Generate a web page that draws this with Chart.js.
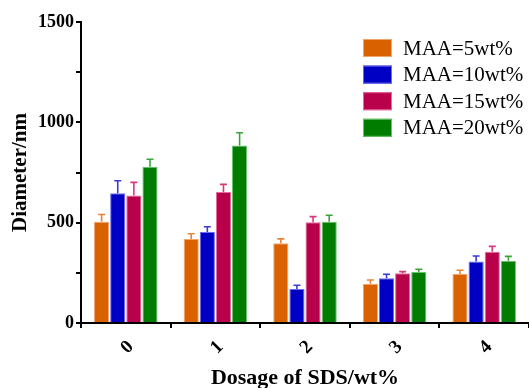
<!DOCTYPE html>
<html>
<head>
<meta charset="utf-8">
<script src="https://cdn.jsdelivr.net/npm/chart.js@4/dist/chart.umd.min.js"></script>
<style>
  body { margin: 0; background: #fff; }
  #chart { display: block; }
</style>
</head>
<body>
<canvas id="chart" width="529" height="388"></canvas>
<script>
const categories = ['0', '1', '2', '3', '4'];
const seriesLabels = ['MAA=5wt%', 'MAA=10wt%', 'MAA=15wt%', 'MAA=20wt%'];

const maa5 = [505, 419, 397, 196, 244];
const maa10 = [646, 453, 169, 223, 307];
const maa15 = [636, 653, 502, 248, 355];
const maa20 = [779, 885, 505, 254, 310];

const err5 = [36, 26, 22, 18, 19];
const err10 = [63, 27, 19, 20, 27];
const err15 = [65, 38, 28, 8, 27];
const err20 = [37, 63, 32, 14, 22];

const yTicks = [0, 500, 1000, 1500];

const fills = ['#d96100', '#0000c4', '#b8004b', '#007d00'];
const edges = ['#f2a66a', '#6a6af0', '#e66a9a', '#66c46a'];
const whiskers = ['#e8843a', '#3a3ad8', '#d63a7a', '#3aa43a'];

const values = [maa5, maa10, maa15, maa20];
const errors = [err5, err10, err15, err20];

const datasets = values.map((v, i) => ({
  label: seriesLabels[i],
  data: v,
  errors: errors[i],
  backgroundColor: fills[i],
  borderColor: edges[i],
  borderWidth: 1,
  categoryPercentage: 0.72,
  barPercentage: 0.94
}));

// upward error bars with a cap
const errorBars = {
  id: 'errorBars',
  afterDatasetsDraw(chart) {
    const ctx = chart.ctx;
    const y = chart.scales.y;
    chart.data.datasets.forEach((ds, i) => {
      const meta = chart.getDatasetMeta(i);
      ctx.save();
      ctx.strokeStyle = whiskers[i];
      ctx.lineWidth = 1.6;
      meta.data.forEach((bar, j) => {
        const top = y.getPixelForValue(ds.data[j] + ds.errors[j]);
        ctx.beginPath();
        ctx.moveTo(bar.x, bar.y);
        ctx.lineTo(bar.x, top);
        ctx.moveTo(bar.x - 3.5, top);
        ctx.lineTo(bar.x + 3.5, top);
        ctx.stroke();
      });
      ctx.restore();
    });
  }
};

// legend inside the plot, top right
const boxLegend = {
  id: 'boxLegend',
  afterDraw(chart) {
    const ctx = chart.ctx;
    ctx.save();
    ctx.font = '21px "Liberation Serif", "Times New Roman", serif';
    ctx.textBaseline = 'middle';
    chart.data.datasets.forEach((ds, i) => {
      const cy = 48 + i * 26.6;
      ctx.fillStyle = ds.backgroundColor;
      ctx.fillRect(363, cy - 9, 29, 18);
      ctx.strokeStyle = ds.borderColor;
      ctx.lineWidth = 1;
      ctx.strokeRect(363.5, cy - 8.5, 28, 17);
      ctx.fillStyle = '#000';
      ctx.fillText(ds.label, 403, cy + 1);
    });
    ctx.restore();
  }
};

new Chart(document.getElementById('chart'), {
  type: 'bar',
  data: { labels: categories, datasets },
  plugins: [errorBars, boxLegend],
  options: {
    responsive: false,
    animation: false,
    layout: { padding: { top: 22, right: -2, left: 0, bottom: 0 } },
    plugins: { legend: { display: false }, tooltip: { enabled: false } },
    scales: {
      x: {
        afterFit(s) { s.height = 65; },
        grid: { drawOnChartArea: false, color: '#000', lineWidth: 2, tickLength: 5 },
        border: { color: '#000', width: 2 },
        ticks: {
          color: '#000', maxRotation: 45, minRotation: 45, padding: 8, labelOffset: 5,
          font: { family: '"Liberation Serif", "Times New Roman", serif', size: 19, weight: 'bold' }
        },
        title: {
          display: true, text: 'Dosage of SDS/wt%', color: '#000', padding: { top: 0, bottom: 0 },
          font: { family: '"Liberation Serif", "Times New Roman", serif', size: 22, weight: 'bold', lineHeight: 0.9 }
        }
      },
      y: {
        min: 0, max: 1500,
        afterFit(s) { s.width = 81; },
        afterBuildTicks(s) {
          s.ticks = [];
          for (let v = 0; v <= 1500; v += 250) s.ticks.push({ value: v });
        },
        grid: {
          drawOnChartArea: false, color: '#000', lineWidth: 2, tickLength: 5
        },
        border: { color: '#000', width: 2 },
        ticks: {
          color: '#000', padding: 2,
          callback: v => yTicks.includes(v) ? String(v) : '',
          font: { family: '"Liberation Serif", "Times New Roman", serif', size: 18, weight: 'bold' }
        },
        title: {
          display: true, text: 'Diameter/nm', color: '#000', padding: { top: 8, bottom: 0 },
          font: { family: '"Liberation Serif", "Times New Roman", serif', size: 21, weight: 'bold' }
        }
      }
    }
  }
});
</script>
</body>
</html>
